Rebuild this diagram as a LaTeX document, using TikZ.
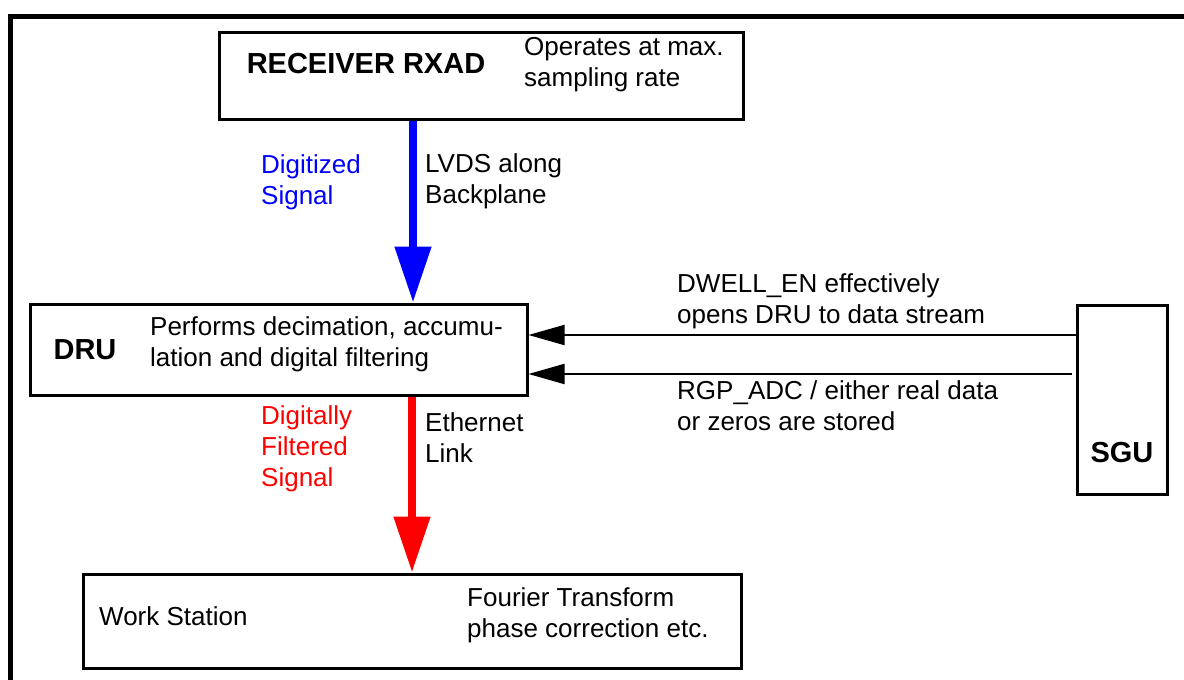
\documentclass[tikz,border=0pt]{standalone}
\usepackage{fontspec}
\setmainfont{Liberation Sans}
\usetikzlibrary{arrows.meta, positioning}
\definecolor{sigblue}{HTML}{0000FF}
\definecolor{sigred}{HTML}{FF0000}

\begin{document}
\begin{tikzpicture}[x=1pt, y=-1pt,
    unitbox/.style={draw=black, line width=3pt, inner sep=0pt},
    note/.style={anchor=west, align=left, inner sep=0pt, font=\fontsize{26}{31}\selectfont},
    title/.style={inner sep=0pt, font=\fontsize{29}{34}\selectfont\bfseries},
    sigarrow/.style={line width=8pt, -{Triangle[length=56pt,width=35pt]}},
    ctlarrow/.style={line width=2pt, -{Triangle[length=36pt,width=20pt]}}]
  \useasboundingbox (0,0) rectangle (1184,680);

  % Frame
  \draw[line width=5pt] (10,680) -- (10,16) -- (1184,16);

  % Boxes
  \node[unitbox, minimum width=524pt, minimum height=87pt] (rx) at (481,75.5) {};
  \node[unitbox, minimum width=497pt, minimum height=91pt] (dru) at (278.5,349.5) {};
  \node[unitbox, minimum width=90pt, minimum height=189pt] (sgu) at (1122,399.5) {};
  \node[unitbox, minimum width=658pt, minimum height=94pt] (ws) at (412,621) {};

  % Box texts
  \node[title] (rxname) at (366,64) {RECEIVER RXAD};
  \node[note] (rxnote) at (524,65) {Operates at max.\\sampling rate};
  \node[title] (druname) at (85,350) {DRU};
  \node[note] (drunote) at (150,344) {Performs decimation, accumu-\\lation and digital filtering};
  \node[title] (sguname) at (1122,453) {SGU};
  \node[note] (wsname) at (99,616) {Work Station};
  \node[note] (wsnote) at (467,615.5) {Fourier Transform\\phase correction etc.};

  % Signal paths
  \coordinate (bluex) at (413,0);
  \coordinate (redx) at (412,0);
  \draw[sigarrow, sigblue] (rx.south -| bluex) -- (dru.north -| bluex);
  \draw[sigarrow, sigred] (dru.south -| redx) -- (ws.north -| redx);
  \node[note, text=sigblue] (digin) at (261,182) {Digitized\\Signal};
  \node[note] (lvds) at (425,181.5) {LVDS along\\Backplane};
  \node[note, text=sigred] (digout) at (261,449) {Digitally\\Filtered\\Signal};
  \node[note] (eth) at (425,437.5) {Ethernet\\Link};

  % Control lines from SGU
  \coordinate (dwelly) at (0,335);
  \coordinate (rgpend) at (1072,374);
  \draw[ctlarrow] (sgu.west |- dwelly) -- (dru.east |- dwelly);
  \draw[ctlarrow] (rgpend) -- (dru.east |- rgpend);
  \node[note] (dwell) at (677,301) {DWELL\_EN effectively\\opens DRU to data stream};
  \node[note] (rgp) at (677,405.5) {RGP\_ADC / either real data\\or zeros are stored};
\end{tikzpicture}
\end{document}
